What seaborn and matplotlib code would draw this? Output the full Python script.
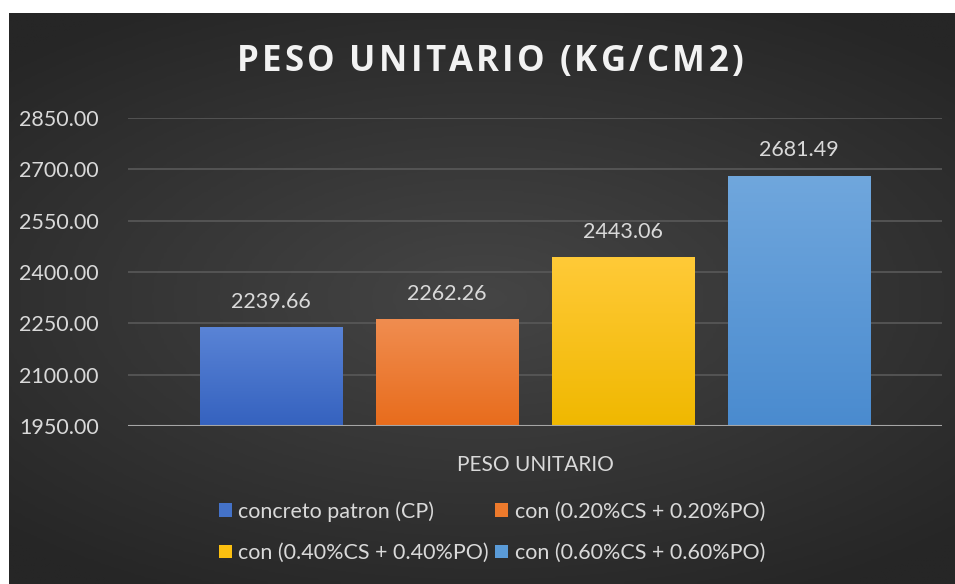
import numpy as np
import pandas as pd
import seaborn as sns
import matplotlib.pyplot as plt
from matplotlib.colors import LinearSegmentedColormap

# datos del grafico
categoria = ["PESO UNITARIO"]
series = ["concreto patron (CP)", "con (0.20%CS + 0.20%PO)",
          "con (0.40%CS + 0.40%PO)", "con (0.60%CS + 0.60%PO)"]
valores = [2239.66, 2262.26, 2443.06, 2681.49]
colores = ["#4472c8", "#ed7a2c", "#fcc010", "#5a9bd8"]
# degradado de cada barra (abajo, arriba)
degradados = [("#3562bf", "#5a84d6"), ("#e86c1c", "#f08d50"),
              ("#f0b800", "#ffca38"), ("#4a8bcf", "#70a7dd")]
ticks_y = [1950, 2100, 2250, 2400, 2550, 2700, 2850]
titulo = "PESO UNITARIO (KG/CM2)"

df = pd.DataFrame({"cat": categoria * len(series), "serie": series, "valor": valores})

sns.set_style("dark")
plt.rcParams['font.family'] = ['Lato', 'DejaVu Sans']

fig = plt.figure(figsize=(9.55, 5.84), dpi=100)
fig.patch.set_facecolor("white")

# fondo oscuro con degradado (como Excel)
bg = fig.add_axes([9 / 955, 0, 1 - 9 / 955, 1 - 13 / 584])
yy, xx = np.mgrid[-1:1:200j, -1:1:300j]
r = np.sqrt((xx * 0.9) ** 2 + (yy * 1.1) ** 2)
bg.imshow(r, cmap=sns.color_palette("blend:#454545,#262626", as_cmap=True),
          aspect="auto", extent=[0, 1, 0, 1], vmin=0, vmax=1.3)
bg.axis("off")

ax = fig.add_axes([128 / 955, 158 / 584, 814 / 955, 308 / 584])
ax.set_facecolor("none")
sns.barplot(data=df, x="cat", y="valor", hue="serie", palette=colores,
            width=0.865, gap=0.19, ax=ax, saturation=1, legend=True,
            linewidth=0, edgecolor="none")

# degradado vertical dentro de cada barra
grad = np.linspace(0, 1, 256).reshape(-1, 1)
for c, (c0, c1) in zip(ax.containers, degradados):
    for p in c.patches:
        x0, y0 = p.get_x(), p.get_y()
        w, hgt = p.get_width(), p.get_height()
        cm = LinearSegmentedColormap.from_list("g", [c0, c1])
        im = ax.imshow(grad, cmap=cm, aspect="auto", origin="lower",
                       extent=[x0, x0 + w, 1950, y0 + hgt], zorder=p.get_zorder() + 0.1)
        im.set_clip_path(p)
ax.set_xlim(-0.5, 0.5)
ax.set_ylim(1950, 2850)

ax.set_yticks(ticks_y)
ax.set_yticklabels([f"{t:.2f}" for t in ticks_y])
ax.yaxis.grid(True, color="#595959", linewidth=1.2)
ax.xaxis.grid(False)
ax.set_axisbelow(True)
for s in ax.spines.values():
    s.set_visible(False)
ax.axhline(1950, color="#a6a6a6", linewidth=1.5, zorder=5)
ax.tick_params(axis="y", colors="#d9d9d9", labelsize=15.5, length=0, pad=21)
ax.tick_params(axis="x", colors="#d9d9d9", labelsize=15, length=0, pad=21)
ax.set_xlabel("")
ax.set_ylabel("")

for c in ax.containers:
    ax.bar_label(c, fmt="%.2f", padding=11, color="#d9d9d9", fontsize=15.5)

# titulo con espaciado entre letras
r_ = fig.canvas.get_renderer()
esp = 3.3  # px extra entre letras
anchos = []
for ch in titulo:
    t = fig.text(0, 0, ch if ch != " " else "n", fontsize=25, fontweight="bold",
                 family="Open Sans")
    bb = t.get_window_extent(r_)
    anchos.append(bb.width * (0.35 if ch == " " else 1.0))
    t.remove()
total = sum(anchos) + esp * (len(titulo) - 1)
x = 490 - total / 2
for ch, wch in zip(titulo, anchos):
    if ch != " ":
        fig.text(x / 955, 1 - 62 / 584, ch, ha="left", va="center", fontsize=25,
                 fontweight="bold", color="#f2f2f2", family="Open Sans")
    x += wch + esp

h, l = ax.get_legend_handles_labels()
orden = [0, 2, 1, 3]
ax.legend([h[i] for i in orden], [l[i] for i in orden], ncol=2,
          loc="center", bbox_to_anchor=(0.515, 0.089), bbox_transform=fig.transFigure,
          frameon=False, fontsize=15.5, labelcolor="#d9d9d9",
          handlelength=0.6, handleheight=0.6, handletextpad=0.3,
          columnspacing=0.3, labelspacing=1.0)

fig.savefig("out.png", dpi=100)
